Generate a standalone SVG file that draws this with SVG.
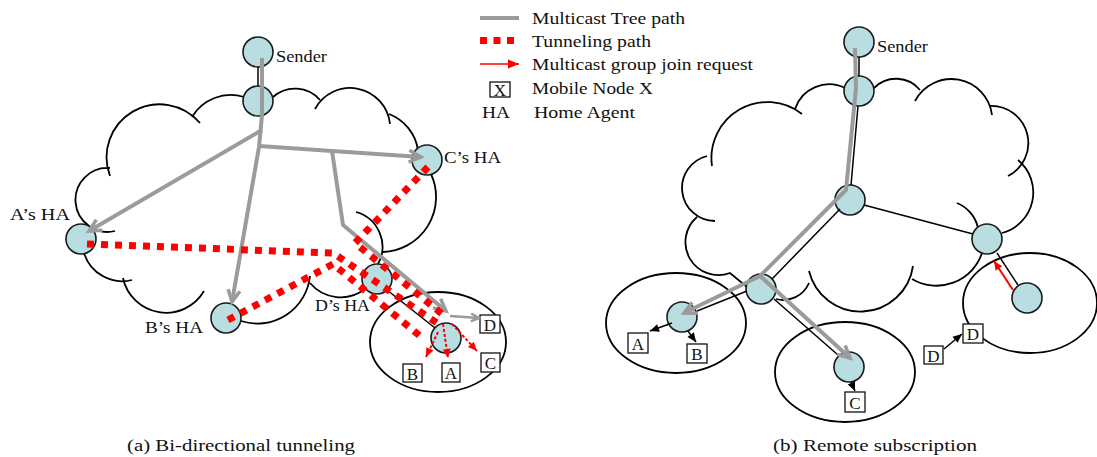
<svg xmlns="http://www.w3.org/2000/svg" width="1097" height="457" viewBox="0 0 1097 457">
<defs>
<style>
text{font-family:"Liberation Serif","Times New Roman",serif;fill:#111}
.lbl{font-size:17px}
.cap{font-size:17px}
.box{fill:#fff;stroke:#111;stroke-width:1.3}
.bl{font-size:17px;text-anchor:middle}
.node{fill:#b9dee2;stroke:#1a1a1a;stroke-width:1.6}
.cloud{fill:none;stroke:#000;stroke-width:1.8}
.ell{fill:none;stroke:#000;stroke-width:1.8}
.tree{fill:none;stroke:#9b9b9b;stroke-width:4;stroke-linejoin:round}
.tun{fill:none;stroke:#ff0000;stroke-width:7;stroke-dasharray:7 7}
.join{fill:none;stroke:#ff0000;stroke-width:2;stroke-dasharray:3 2}
.thin{fill:none;stroke:#000;stroke-width:1.5}
</style>
<marker id="gv" markerUnits="userSpaceOnUse" markerWidth="16" markerHeight="16" refX="13" refY="7" orient="auto" overflow="visible"><path d="M1,1 L13,7 L1,13" fill="none" stroke="#9b9b9b" stroke-width="3.5"/></marker>
<marker id="gvs" markerUnits="userSpaceOnUse" markerWidth="12" markerHeight="12" refX="9" refY="5" orient="auto" overflow="visible"><path d="M1,1 L9,5 L1,9" fill="none" stroke="#9b9b9b" stroke-width="2.5"/></marker>
<marker id="ra" markerUnits="userSpaceOnUse" markerWidth="10" markerHeight="8" refX="9" refY="4" orient="auto" overflow="visible"><path d="M0,0 L9,4 L0,8 z" fill="#ff0000"/></marker>
<marker id="raL" markerUnits="userSpaceOnUse" markerWidth="12" markerHeight="10" refX="11" refY="4.5" orient="auto" overflow="visible"><path d="M0,0 L11,4.5 L0,9 z" fill="#ff0000"/></marker>
<marker id="ba" markerUnits="userSpaceOnUse" markerWidth="10" markerHeight="8" refX="9" refY="4" orient="auto" overflow="visible"><path d="M0,0 L9,4 L0,8 z" fill="#000"/></marker>
</defs>
<rect width="1097" height="457" fill="#fff"/>

<!-- clouds and ellipses -->
<g id="cloud-a">
<path class="cloud" d="M115,231 A32 32 0 1 1 110,168 M110,176 A53 53 0 0 1 200,123 M192,117 A45 45 0 0 1 244,97 M273,97 A33 33 0 0 1 320,100 M315,109 A40 40 0 0 1 390,124 M389,114 A46 46 0 0 1 418,150 M431,174 A55 55 0 0 1 383,252 M356,212 A36 36 0 0 1 378,264 M365,289 A40 40 0 0 1 310,283 M310,276 A53 53 0 0 1 241,321 M204,291 A44 44 0 0 1 123,278 M132,280 A40 40 0 0 1 84,253"/>
</g>
<g id="network-a-foreign">
<ellipse class="ell" cx="438" cy="342" rx="68" ry="50"/>
</g>
<g id="cloud-b">
<path class="cloud" d="M747,287 L730,273 A33 33 0 0 1 697,217 M715,221 A33 33 0 0 1 707,156 M712,166 A56 56 0 0 1 802,114 M795,109 A36 36 0 0 1 845,88 M874,88 A31 31 0 0 1 920,90 M915,101 A41 41 0 0 1 992,115 M990,106 A37 37 0 0 1 1008,176 M1018,160 A42 42 0 0 1 1002,233 M957,203 A35 35 0 0 1 978,228 M982,253 A48 48 0 0 1 912,279 M913,266 A53 53 0 0 1 809,271 M809,283 A28 28 0 0 1 776,299"/>
</g>
<g id="networks-b">
<ellipse class="ell" cx="676" cy="323" rx="70" ry="50"/>
<ellipse class="ell" cx="845" cy="372" rx="70" ry="50"/>
<ellipse class="ell" cx="1030" cy="303" rx="67" ry="50"/>
</g>

<!-- nodes (a) -->
<g id="a-sender"><circle class="node" cx="258" cy="52" r="15"/><text class="lbl" x="276" y="62" textLength="51" lengthAdjust="spacingAndGlyphs">Sender</text></g>
<g id="a-router"><circle class="node" cx="258" cy="101" r="15"/></g>
<g id="a-ha-A"><circle class="node" cx="81" cy="239" r="15"/><text class="lbl" x="10" y="220" textLength="60" lengthAdjust="spacingAndGlyphs">A’s HA</text></g>
<g id="a-ha-B"><circle class="node" cx="226" cy="318" r="15"/><text class="lbl" x="145" y="333" textLength="58" lengthAdjust="spacingAndGlyphs">B’s HA</text></g>
<g id="a-ha-C"><circle class="node" cx="427" cy="160" r="15"/><text class="lbl" x="444" y="163" textLength="57" lengthAdjust="spacingAndGlyphs">C’s HA</text></g>
<g id="a-ha-D"><circle class="node" cx="377" cy="279" r="15"/><text class="lbl" x="315" y="311" textLength="55" lengthAdjust="spacingAndGlyphs">D’s HA</text></g>
<g id="a-foreign-router"><circle class="node" cx="446" cy="338" r="15"/></g>
<g id="a-mn-D"><rect class="box" x="480" y="315" width="20" height="18"/><text class="bl" x="490" y="330.5">D</text></g>
<g id="a-mn-C"><rect class="box" x="481" y="353" width="19" height="19"/><text class="bl" x="490.5" y="368.5">C</text></g>
<g id="a-mn-A"><rect class="box" x="442" y="363" width="18" height="19"/><text class="bl" x="451" y="378.5">A</text></g>
<g id="a-mn-B"><rect class="box" x="403" y="364" width="19" height="18"/><text class="bl" x="412.5" y="379.5">B</text></g>

<!-- nodes (b) -->
<g id="b-sender"><circle class="node" cx="859" cy="42" r="15"/><text class="lbl" x="877" y="52" textLength="51" lengthAdjust="spacingAndGlyphs">Sender</text></g>
<g id="b-router-top"><circle class="node" cx="859" cy="91" r="15"/></g>
<g id="b-router-mid"><circle class="node" cx="850" cy="200" r="15"/></g>
<g id="b-router-right"><circle class="node" cx="987" cy="239" r="15"/></g>
<g id="b-router-mobile"><circle class="node" cx="1027" cy="298" r="15"/></g>
<g id="b-router-low"><circle class="node" cx="761" cy="289" r="15"/></g>
<g id="b-router-AB"><circle class="node" cx="682" cy="317" r="15"/></g>
<g id="b-router-C"><circle class="node" cx="849" cy="367" r="15"/></g>
<g id="b-mn-A"><rect class="box" x="628" y="333" width="20" height="20"/><text class="bl" x="638" y="349.5">A</text></g>
<g id="b-mn-B"><rect class="box" x="687" y="344" width="20" height="19"/><text class="bl" x="697" y="359.5">B</text></g>
<g id="b-mn-C"><rect class="box" x="845" y="392" width="20" height="20"/><text class="bl" x="855" y="408.5">C</text></g>
<g id="b-mn-D-old"><rect class="box" x="924" y="346" width="19" height="18"/><text class="bl" x="933.5" y="361.5">D</text></g>
<g id="b-mn-D-new"><rect class="box" x="963" y="324" width="20" height="19"/><text class="bl" x="973" y="339.5">D</text></g>

<!-- connectors -->
<g id="connectors">
<g id="links-black">
<path class="thin" d="M258,67 L258,86"/>
<path class="thin" d="M387,290 L435,328"/>
<path class="thin" d="M859,57 L859,76"/>
<path class="thin" d="M858,106 L851,185"/>
<path class="thin" d="M840,209 L772,279"/>
<path class="thin" d="M747,291 L697,311"/>
<path class="thin" d="M774,299 L838,355"/>
<path class="thin" d="M864,205 L973,234"/>
<path class="thin" d="M997,253 L1018,285"/>
<path class="thin" d="M672,323 L650,331" marker-end="url(#ba)"/>
<path class="thin" d="M688,331 L696,342" marker-end="url(#ba)"/>
<path class="thin" d="M851,382 L855,391" marker-end="url(#ba)"/>
<path class="thin" d="M944,349 L962,334" marker-end="url(#ba)"/>
</g>
<g id="tree-paths">
<path class="tree" d="M262,58 L262,115 L259,147 L232,302" marker-end="url(#gv)"/>
<path class="tree" d="M262,130 L89,231" marker-end="url(#gv)"/>
<path class="tree" d="M259,146 L332,151 L421,157" marker-end="url(#gv)"/>
<path class="tree" d="M332,151 L343,225 L446,311" marker-end="url(#gv)"/>
<path class="tree" style="stroke-width:2.5" d="M450,316 L479,318" marker-end="url(#gvs)"/>
<path class="tree" d="M855,48 L856,88 L846,190 L760,276 L684,313" marker-end="url(#gv)"/>
<path class="tree" d="M760,276 L850,358" marker-end="url(#gv)"/>
</g>
<g id="tunnel-paths">
<path class="tun" d="M87,244 L333,253 L440,325"/>
<path class="tun" d="M228,320 L333,264 L420,336"/>
<path class="tun" d="M428,167 L355,243 L447,318"/>
</g>
<g id="join-requests">
<path class="join" d="M438,332 L426,357" marker-end="url(#ra)"/>
<path class="join" d="M443,324 L448,358" marker-end="url(#ra)"/>
<path class="join" d="M452,324 L477,351" marker-end="url(#ra)"/>
<path fill="none" stroke="#ff0000" stroke-width="2" d="M1013,290 L994,261" marker-end="url(#ra)"/>
</g>
</g>

<!-- legend -->
<g id="legend">
<line x1="480" y1="18" x2="519" y2="18" stroke="#9b9b9b" stroke-width="4"/>
<line x1="480" y1="40.5" x2="520" y2="40.5" stroke="#ff0000" stroke-width="7" stroke-dasharray="7 6.5"/>
<line x1="480" y1="64" x2="519" y2="64" stroke="#ff0000" stroke-width="1.5" marker-end="url(#raL)"/>
<rect class="box" x="490" y="82" width="20" height="15"/>
<text class="bl" x="500" y="95.5">X</text>
<text class="lbl" x="482" y="118" textLength="28" lengthAdjust="spacingAndGlyphs">HA</text>
<text class="lbl" x="532" y="24" textLength="153" lengthAdjust="spacingAndGlyphs">Multicast Tree path</text>
<text class="lbl" x="532" y="47" textLength="119" lengthAdjust="spacingAndGlyphs">Tunneling path</text>
<text class="lbl" x="532" y="70" textLength="221" lengthAdjust="spacingAndGlyphs">Multicast group join request</text>
<text class="lbl" x="532" y="94" textLength="121" lengthAdjust="spacingAndGlyphs">Mobile Node X</text>
<text class="lbl" x="534" y="118" textLength="101" lengthAdjust="spacingAndGlyphs">Home Agent</text>
</g>

<g id="captions">
<text class="cap" x="127" y="451" textLength="228" lengthAdjust="spacingAndGlyphs">(a) Bi-directional tunneling</text>
<text class="cap" x="773" y="451" textLength="204" lengthAdjust="spacingAndGlyphs">(b) Remote subscription</text>
</g>
</svg>
